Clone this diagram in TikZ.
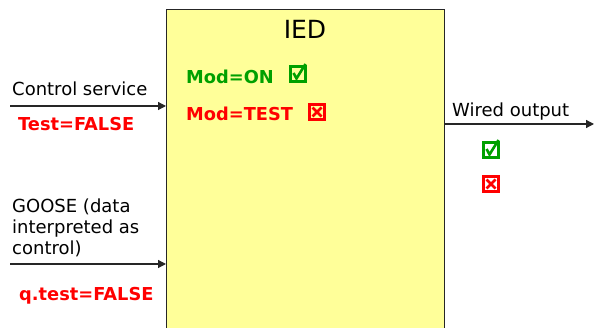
\documentclass[tikz,border=0pt]{standalone}
\usepackage{fontspec}
\setmainfont{DejaVu Sans}
\usetikzlibrary{arrows.meta}
\definecolor{iedfill}{HTML}{FFFF99}
\definecolor{okgreen}{HTML}{00A000}
\definecolor{badred}{HTML}{FF0000}
\tikzset{
  lbl/.style={anchor=west, inner sep=0pt, font=\fontsize{18}{21}\selectfont},
  flag/.style={anchor=west, inner sep=0pt, font=\fontsize{17.8}{21}\selectfont\bfseries},
  sig/.style={line width=1.2pt, draw=black!85, -{Triangle[length=8pt,width=8pt]}},
  okbox/.pic={
    \draw[okgreen, line width=2.2pt] (-7.5,-7.5) rectangle (7.5,7.5);
    \draw[okgreen, line width=2.6pt] (-4.5,-1) -- (-1.5,4.5) -- (7.5,-10);
  },
  badbox/.pic={
    \draw[badred, line width=2.6pt] (-7.5,-7.5) rectangle (7.5,7.5);
    \draw[badred, line width=2.8pt] (-4.5,-4.5) -- (4.5,4.5) (-4.5,4.5) -- (4.5,-4.5);
  }
}
\begin{document}
\begin{tikzpicture}[x=1pt,y=-1pt]
\useasboundingbox (0,0) rectangle (594,328);
\clip (0,0) rectangle (594,328);
% the device block, running off the lower edge
\node[draw=black!85, line width=1pt, fill=iedfill, anchor=north west,
      minimum width=278pt, minimum height=340pt, inner sep=0pt] (ied) at (166,9) {};
\node[font=\fontsize{25}{30}\selectfont] (title) at (305,29) {IED};
\node[flag, text=okgreen] (modon) at (186,77) {Mod=ON};
\pic at (298,74) {okbox};
\node[flag, text=badred] (modtest) at (186,114) {Mod=TEST};
\pic at (317,112) {badbox};
% control service input
\coordinate (csin) at (10,106);
\draw[sig] (csin) -- (csin -| ied.west);
\node[lbl] (cslbl) at (12,89) {Control service};
\node[flag, text=badred] (cstest) at (18,124) {Test=FALSE};
% GOOSE input
\coordinate (goin) at (10,264);
\draw[sig] (goin) -- (goin -| ied.west);
\node[lbl, align=left] (golbl) at (12,228) {GOOSE (data\\interpreted as\\control)};
\node[flag, text=badred] (gotest) at (19,296) {q.test=FALSE};
% wired output
\coordinate (wout) at (594,124);
\draw[sig] (ied.east |- wout) -- (wout);
\node[lbl] (wlbl) at (452,112) {Wired output};
\pic at (491,150) {okbox};
\pic at (491,184) {badbox};
\end{tikzpicture}
\end{document}
